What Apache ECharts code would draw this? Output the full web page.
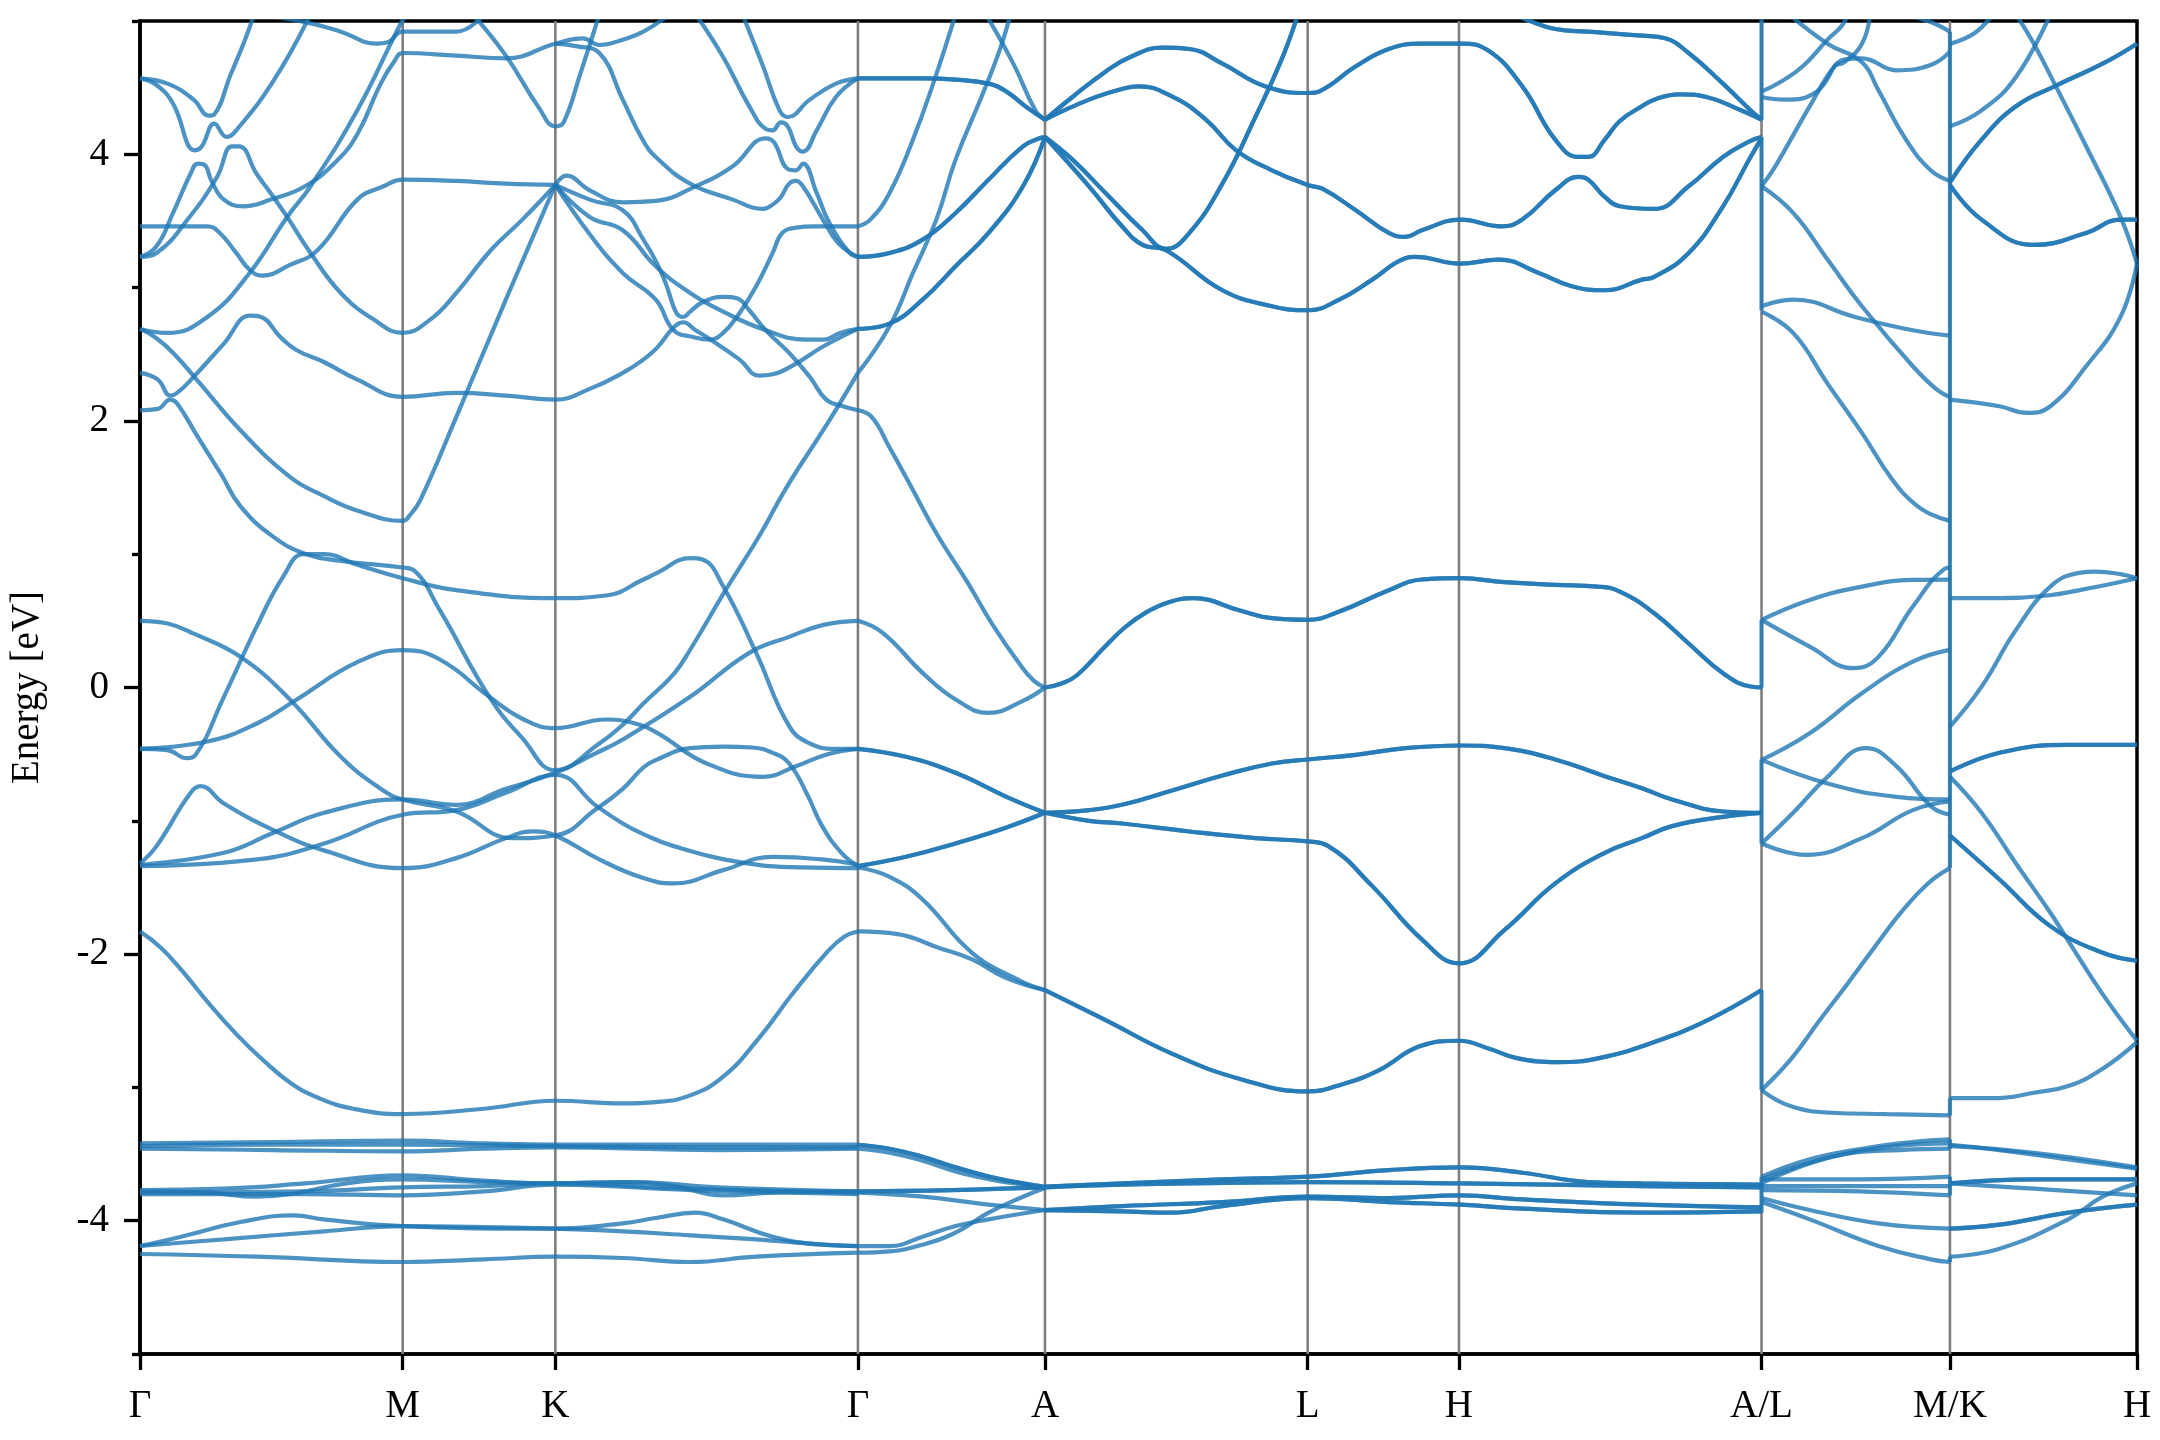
<!DOCTYPE html>
<html>
<head>
<meta charset="utf-8">
<script src="https://cdn.jsdelivr.net/npm/echarts@6/dist/echarts.min.js"></script>
<style>html,body{margin:0;padding:0;background:#fff;}#chart{width:2160px;height:1440px;}</style>
</head>
<body>
<div id="chart"></div>
<script>
// k-path positions of the high-symmetry points and their labels
const kTicks = [0, 191, 302, 522, 658, 849, 959, 1179, 1316, 1452];
const kLabels = ['Γ', 'M', 'K', 'Γ', 'A', 'L', 'H', 'A/L', 'M/K', 'H'];
const energyLabels = [-4, -2, 0, 2, 4];
const energyMinor = [-5, -3, -1, 1, 3, 5];

// Γ–M–K–Γ bands [k, E]
const bandsGMKG = [
  [[0,4.57],[20,4.53],[39,4.41],[50,4.29],[54,4.3],[66,4.6],[76,4.85],[83,5.05]],
  [[0,4.57],[12,4.52],[24,4.38],[40,4.03],[45,4.06],[54,4.23],[63,4.13],[70,4.18],[97,4.55],[124,5.05]],
  [[0,3.23],[12,3.31],[24,3.56],[37,3.86],[42,3.93],[47,3.92],[52,3.8],[61,3.66],[75,3.61],[95,3.66],[120,3.76],[143,3.95],[158,4.15],[175,4.53],[185,4.7],[191,4.76],[230,4.74],[266,4.72],[302,4.83],[322,4.87],[334,4.82],[351,4.86],[366,4.92],[385,5.05]],
  [[0,3.23],[12,3.26],[36,3.53],[56,3.83],[67,4.06],[72,4.06],[85,3.85],[97,3.68],[107,3.53],[124,3.26],[146,2.96],[170,2.76],[191,2.66],[211,2.76],[230,2.96],[255,3.28],[278,3.51],[302,3.77]],
  [[0,3.46],[24,3.46],[49,3.46],[58,3.41],[70,3.26],[80,3.13],[89,3.09],[109,3.17],[129,3.28],[158,3.66],[177,3.76],[191,3.81],[230,3.8],[266,3.78],[302,3.77]],
  [[0,2.69],[20,2.66],[49,2.78],[79,3.1],[107,3.53],[124,3.76],[158,4.33],[189,4.97],[194,5.05]],
  [[0,2.69],[12,2.62],[25,2.5],[42,2.3],[73,1.93],[109,1.58],[133,1.44],[160,1.32],[191,1.25],[196,1.29],[204,1.41],[230,2.03],[266,2.91],[302,3.77]],
  [[0,2.08],[13,2.09],[22,2.16],[27,2.13],[42,1.88],[59,1.6],[73,1.36],[97,1.13],[121,1.0],[146,0.95],[191,0.9],[199,0.88],[218,0.58],[254,-0.07],[278,-0.38],[302,-0.62],[334,-0.42],[351,-0.28],[366,-0.12],[388,0.1],[401,0.3],[424,0.7],[451,1.15],[470,1.5],[501,2.0],[522,2.36]],
  [[0,2.36],[13,2.31],[22,2.19],[27,2.21],[39,2.33],[61,2.58],[80,2.79],[88,2.78],[102,2.63],[114,2.53],[134,2.44],[158,2.31],[191,2.18],[230,2.21],[266,2.19],[302,2.16],[327,2.24],[351,2.36],[366,2.46],[376,2.55],[388,2.7],[395,2.74],[404,2.68],[412,2.63],[436,2.46],[450,2.34],[460,2.35],[477,2.43],[497,2.56],[522,2.69]],
  [[85,5.05],[121,4.99],[146,4.92],[172,4.83],[180,4.84],[191,4.92],[230,4.92],[250,5.05]],
  [[242,5.05],[266,4.74],[290,4.35],[302,4.21],[308,4.24],[320,4.6],[334,5.05]],
  [[302,3.77],[310,3.84],[327,3.73],[351,3.64],[375,3.65],[404,3.76],[431,3.91],[455,4.12],[461,4.09],[471,3.89],[477,3.88],[482,3.93],[492,3.71],[501,3.49],[516,3.26],[522,3.23]],
  [[302,4.83],[318,4.81],[334,4.76],[351,4.41],[366,4.1],[376,3.97],[400,3.78],[431,3.66],[453,3.59],[461,3.63],[466,3.68],[472,3.78],[477,3.8],[482,3.76],[496,3.52],[508,3.33],[522,3.23]],
  [[302,3.77],[327,3.53],[351,3.43],[375,3.16],[400,2.96],[424,2.82],[455,2.68],[484,2.61],[497,2.61],[509,2.66],[522,2.69]],
  [[302,3.77],[327,3.4],[351,3.11],[375,2.91],[388,2.68],[402,2.63],[414,2.61],[424,2.66],[436,2.81],[448,3.01],[460,3.26],[467,3.41],[477,3.45],[490,3.46],[522,3.46]],
  [[302,3.77],[327,3.66],[351,3.58],[366,3.36],[376,3.18],[383,3.01],[390,2.81],[395,2.78],[400,2.82],[409,2.89],[424,2.93],[434,2.92],[443,2.83],[455,2.68],[472,2.51],[487,2.33],[499,2.16],[511,2.11],[522,2.08]],
  [[404,5.05],[424,4.73],[443,4.36],[455,4.19],[460,4.18],[466,4.24],[471,4.21],[477,4.06],[482,4.02],[492,4.18],[506,4.43],[522,4.57]],
  [[438,5.05],[453,4.66],[465,4.33],[471,4.28],[487,4.41],[506,4.53],[522,4.57]],
  [[0,0.5],[20,0.48],[40,0.4],[73,0.23],[109,-0.09],[146,-0.52],[175,-0.76],[191,-0.84],[230,-0.93],[271,-1.13],[302,-1.11],[332,-0.91],[351,-0.76],[366,-0.6],[376,-0.54],[400,-0.455],[424,-0.443],[445,-0.45],[460,-0.49],[472,-0.57],[485,-0.8],[496,-1.04],[510,-1.24],[522,-1.34]],
  [[0,-0.46],[20,-0.47],[34,-0.53],[40,-0.51],[61,-0.07],[85,0.46],[104,0.83],[119,1.0],[134,1.0],[158,0.92],[191,0.82],[230,0.73],[302,0.67],[339,0.69],[366,0.81],[376,0.86],[400,0.97],[409,0.96],[424,0.76],[448,0.26],[472,-0.29],[487,-0.42],[505,-0.46],[522,-0.46]],
  [[0,-0.46],[49,-0.405],[85,-0.27],[114,-0.09],[158,0.19],[191,0.28],[218,0.21],[254,-0.07],[279,-0.24],[302,-0.305],[339,-0.24],[360,-0.27],[376,-0.34],[412,-0.57],[453,-0.67],[477,-0.59],[500,-0.5],[522,-0.46]],
  [[0,-1.32],[12,-1.19],[36,-0.8],[44,-0.74],[61,-0.87],[97,-1.07],[133,-1.22],[191,-1.355],[230,-1.28],[266,-1.13],[286,-1.08],[302,-1.11],[334,-1.29],[366,-1.43],[388,-1.47],[424,-1.37],[460,-1.27],[496,-1.29],[522,-1.33]],
  [[0,-1.33],[61,-1.24],[97,-1.09],[134,-0.94],[191,-0.84],[230,-0.88],[266,-0.76],[302,-0.64],[330,-0.5],[351,-0.39],[400,-0.07],[443,0.26],[472,0.38],[497,0.47],[522,0.5]],
  [[0,-1.34],[85,-1.29],[134,-1.17],[191,-0.955],[230,-0.92],[266,-0.79],[302,-0.655],[332,-0.89],[351,-1.02],[366,-1.1],[388,-1.19],[436,-1.31],[480,-1.35],[522,-1.355]],
  [[0,-1.83],[15,-1.95],[31,-2.13],[50,-2.37],[70,-2.6],[90,-2.8],[110,-2.97],[130,-3.08],[155,-3.16],[191,-3.2],[250,-3.16],[302,-3.1],[351,-3.12],[375,-3.11],[400,-3.06],[424,-2.92],[450,-2.63],[475,-2.29],[500,-1.98],[512,-1.87],[522,-1.83]],
  [[0,-3.42],[96,-3.41],[191,-3.4],[250,-3.42],[302,-3.43],[420,-3.43],[522,-3.43]],
  [[0,-3.44],[96,-3.43],[191,-3.43],[302,-3.44],[420,-3.45],[522,-3.45]],
  [[0,-3.46],[96,-3.47],[191,-3.48],[250,-3.46],[302,-3.45],[420,-3.47],[522,-3.46]],
  [[0,-3.77],[60,-3.76],[120,-3.72],[191,-3.66],[250,-3.7],[302,-3.72],[360,-3.71],[420,-3.75],[522,-3.78]],
  [[0,-3.78],[50,-3.79],[85,-3.82],[110,-3.8],[150,-3.72],[191,-3.69],[250,-3.71],[302,-3.72],[351,-3.71],[388,-3.74],[424,-3.81],[460,-3.79],[522,-3.78]],
  [[0,-3.79],[120,-3.78],[191,-3.75],[250,-3.74],[302,-3.72],[400,-3.76],[522,-3.79]],
  [[0,-3.8],[120,-3.8],[191,-3.81],[250,-3.78],[302,-3.73],[400,-3.77],[522,-3.8]],
  [[0,-4.19],[30,-4.12],[73,-4.01],[112,-3.96],[133,-3.99],[191,-4.04],[302,-4.06],[351,-4.02],[375,-3.98],[404,-3.94],[424,-3.99],[460,-4.12],[496,-4.18],[522,-4.19]],
  [[0,-4.19],[61,-4.14],[134,-4.08],[191,-4.04],[302,-4.06],[351,-4.08],[400,-4.11],[448,-4.14],[497,-4.18],[522,-4.19]],
  [[0,-4.25],[85,-4.27],[191,-4.31],[250,-4.29],[302,-4.27],[351,-4.28],[400,-4.31],[448,-4.27],[522,-4.24]]
];

// Γ–A bands (single)
const bandsGA = [
  [[522,3.46],[531,3.51],[545,3.71],[562,4.11],[578,4.57],[593,5.05]],
  [[522,2.36],[545,2.71],[562,3.11],[579,3.51],[593,3.96],[613,4.46],[625,4.78],[633,5.05]],
  [[615,5.05],[635,4.68],[651,4.33],[658,4.26]],
  [[522,2.08],[532,2.03],[545,1.8],[560,1.52],[580,1.14],[601,0.8],[620,0.47],[640,0.17],[650,0.05],[658,0.0]],
  [[522,0.5],[540,0.41],[569,0.11],[593,-0.09],[617,-0.19],[642,-0.1],[658,0.0]],
  [[522,-1.35],[545,-1.42],[569,-1.59],[605,-1.99],[640,-2.2],[658,-2.27]],
  [[522,-1.83],[551,-1.85],[580,-1.95],[605,-2.04],[630,-2.18],[658,-2.27]],
  [[522,-3.46],[545,-3.49],[569,-3.55],[593,-3.63],[618,-3.69],[642,-3.73],[658,-3.75]],
  [[522,-3.79],[569,-3.82],[617,-3.88],[658,-3.92]],
  [[522,-4.19],[545,-4.19],[569,-4.12],[593,-4.04],[617,-3.99],[658,-3.92]],
  [[522,-4.24],[545,-4.23],[569,-4.18],[593,-4.09],[617,-3.94],[642,-3.82],[658,-3.755]]
];
// Γ–A bands (doubly degenerate)
const bandsGA2 = [
  [[522,4.57],[545,4.57],[569,4.57],[593,4.56],[617,4.53],[630,4.47],[645,4.35],[658,4.26]],
  [[522,3.23],[545,3.26],[569,3.36],[593,3.56],[617,3.81],[642,4.06],[654,4.12],[658,4.13]],
  [[522,2.69],[545,2.73],[569,2.91],[593,3.16],[617,3.41],[642,3.76],[658,4.13]],
  [[522,-0.46],[557,-0.52],[593,-0.64],[630,-0.82],[658,-0.94]],
  [[522,-1.34],[557,-1.27],[593,-1.17],[630,-1.05],[658,-0.94]],
  [[522,-3.43],[545,-3.46],[569,-3.52],[593,-3.6],[618,-3.67],[642,-3.72],[658,-3.745]],
  [[522,-3.78],[590,-3.77],[658,-3.75]]
];

// A–L–H–A bands (doubly degenerate)
const bandsALHA2 = [
  [[658,4.26],[678,4.43],[702,4.62],[720,4.73],[743,4.8],[763,4.79],[787,4.68],[818,4.51],[849,4.46],[859,4.48],[884,4.66],[908,4.79],[932,4.83],[960,4.83],[980,4.78],[1005,4.51],[1029,4.11],[1046,3.98],[1053,3.98],[1065,4.11],[1076,4.25],[1092,4.36],[1101,4.41],[1119,4.45],[1139,4.43],[1164,4.33],[1179,4.26]],
  [[658,4.26],[690,4.41],[714,4.49],[726,4.51],[751,4.43],[775,4.26],[797,4.03],[823,3.88],[849,3.77],[860,3.74],[884,3.58],[908,3.41],[920,3.38],[932,3.43],[960,3.51],[990,3.46],[1005,3.51],[1029,3.73],[1046,3.83],[1053,3.81],[1065,3.68],[1076,3.61],[1101,3.59],[1126,3.76],[1151,3.98],[1171,4.1],[1179,4.13]],
  [[658,4.13],[678,3.96],[702,3.71],[729,3.43],[746,3.29],[763,3.41],[787,3.78],[811,4.28],[830,4.71],[842,5.05]],
  [[658,4.13],[690,3.76],[714,3.46],[729,3.32],[746,3.28],[787,2.98],[823,2.86],[849,2.83],[872,2.91],[896,3.06],[920,3.22],[927,3.23],[960,3.18],[988,3.21],[1017,3.11],[1041,3.01],[1065,2.98],[1092,3.06],[1101,3.08],[1126,3.26],[1151,3.61],[1171,3.98],[1179,4.12]],
  [[1000,5.05],[1029,4.94],[1053,4.92],[1092,4.89],[1109,4.87],[1126,4.76],[1151,4.53],[1171,4.33],[1179,4.26]],
  [[658,0.0],[670,0.03],[681,0.09],[701,0.3],[716,0.45],[731,0.56],[748,0.64],[766,0.67],[799,0.58],[823,0.52],[849,0.507],[872,0.57],[908,0.73],[932,0.81],[960,0.82],[992,0.79],[1029,0.77],[1060,0.757],[1076,0.72],[1101,0.557],[1126,0.33],[1151,0.107],[1171,0.007],[1179,0.0]],
  [[658,-0.94],[690,-0.92],[714,-0.88],[751,-0.77],[787,-0.66],[823,-0.57],[849,-0.54],[884,-0.505],[920,-0.455],[960,-0.435],[992,-0.455],[1029,-0.54],[1065,-0.665],[1092,-0.755],[1114,-0.84],[1151,-0.93],[1179,-0.94]],
  [[658,-0.94],[690,-1.0],[714,-1.02],[763,-1.08],[811,-1.13],[849,-1.155],[864,-1.19],[896,-1.49],[932,-1.89],[959,-2.07],[992,-1.82],[1029,-1.47],[1065,-1.24],[1092,-1.13],[1114,-1.04],[1151,-0.97],[1179,-0.94]],
  [[658,-2.27],[701,-2.49],[751,-2.75],[801,-2.94],[849,-3.03],[876,-2.97],[901,-2.87],[931,-2.69],[959,-2.65],[981,-2.71],[1001,-2.78],[1031,-2.81],[1061,-2.78],[1101,-2.66],[1141,-2.49],[1179,-2.27]],
  [[658,-3.745],[714,-3.72],[787,-3.69],[850,-3.67],[908,-3.62],[960,-3.6],[1005,-3.64],[1053,-3.71],[1092,-3.72],[1179,-3.73]],
  [[658,-3.75],[714,-3.73],[850,-3.71],[960,-3.72],[1092,-3.74],[1179,-3.75]],
  [[658,-3.92],[714,-3.89],[787,-3.86],[850,-3.82],[908,-3.83],[960,-3.81],[1005,-3.84],[1092,-3.88],[1179,-3.9]],
  [[658,-3.92],[714,-3.93],[750,-3.94],[787,-3.89],[850,-3.83],[908,-3.86],[960,-3.88],[1005,-3.91],[1092,-3.94],[1179,-3.93]]
];

// L–M bands
const bandsLM = [
  [[1179,4.47],[1194,4.55],[1209,4.66],[1227,4.86],[1237,4.96],[1242,5.05]],
  [[1179,4.43],[1196,4.41],[1219,4.47],[1239,4.71],[1252,4.72],[1277,4.63],[1302,4.67],[1316,4.77]],
  [[1179,3.76],[1189,3.91],[1214,4.36],[1232,4.66],[1239,4.69],[1252,4.83],[1258,5.05]],
  [[1179,3.76],[1202,3.56],[1227,3.21],[1252,2.86],[1289,2.41],[1307,2.23],[1316,2.18]],
  [[1179,2.86],[1202,2.91],[1247,2.78],[1289,2.68],[1316,2.64]],
  [[1179,2.82],[1202,2.66],[1227,2.28],[1252,1.91],[1274,1.56],[1290,1.38],[1302,1.3],[1316,1.25]],
  [[1199,5.05],[1227,4.83],[1252,4.69],[1264,4.48],[1284,4.11],[1302,3.88],[1316,3.8]],
  [[1280,5.05],[1300,5.0],[1316,4.92]],
  [[1179,0.507],[1214,0.657],[1252,0.757],[1289,0.807],[1316,0.81]],
  [[1179,0.507],[1214,0.307],[1246,0.145],[1264,0.23],[1289,0.607],[1312,0.89],[1316,0.9]],
  [[1179,-0.543],[1214,-0.343],[1252,-0.043],[1289,0.194],[1316,0.282]],
  [[1179,-0.543],[1227,-0.72],[1277,-0.82],[1316,-0.84]],
  [[1179,-1.17],[1202,-0.94],[1227,-0.67],[1255,-0.455],[1277,-0.59],[1302,-0.89],[1316,-0.955]],
  [[1179,-1.17],[1212,-1.255],[1252,-1.13],[1289,-0.92],[1316,-0.855]],
  [[1179,-3.02],[1201,-2.78],[1221,-2.5],[1241,-2.23],[1261,-1.95],[1281,-1.68],[1300,-1.47],[1316,-1.355]],
  [[1179,-3.02],[1200,-3.14],[1230,-3.19],[1270,-3.2],[1316,-3.21]],
  [[1179,-3.67],[1214,-3.54],[1252,-3.46],[1289,-3.41],[1316,-3.39]],
  [[1179,-3.69],[1227,-3.53],[1277,-3.44],[1316,-3.42]],
  [[1179,-3.72],[1240,-3.5],[1280,-3.47],[1316,-3.46]],
  [[1179,-3.69],[1250,-3.69],[1316,-3.67]],
  [[1179,-3.74],[1316,-3.74]],
  [[1179,-3.77],[1250,-3.78],[1316,-3.81]],
  [[1179,-3.83],[1214,-3.92],[1264,-4.02],[1316,-4.06]],
  [[1179,-3.86],[1214,-3.99],[1264,-4.19],[1302,-4.29],[1316,-4.31]]
];

// K–H bands (single)
const bandsKH = [
  [[1316,4.83],[1334,4.91],[1347,5.05]],
  [[1316,4.21],[1339,4.33],[1364,4.58],[1389,5.05]],
  [[1364,5.05],[1377,4.83],[1392,4.53],[1415,4.06],[1440,3.53],[1452,3.18]],
  [[1316,2.16],[1352,2.11],[1372,2.06],[1389,2.11],[1415,2.41],[1440,2.78],[1452,3.18]],
  [[1316,0.67],[1352,0.67],[1387,0.69],[1420,0.75],[1452,0.82]],
  [[1316,-0.293],[1339,0.007],[1364,0.432],[1389,0.757],[1410,0.86],[1422,0.87],[1440,0.85],[1452,0.82]],
  [[1316,-0.67],[1339,-0.94],[1364,-1.32],[1389,-1.69],[1402,-1.9],[1427,-2.3],[1452,-2.65]],
  [[1316,-3.08],[1352,-3.08],[1377,-3.04],[1402,-2.99],[1427,-2.86],[1452,-2.66]],
  [[1316,-3.43],[1352,-3.47],[1402,-3.54],[1452,-3.61]],
  [[1316,-3.44],[1377,-3.49],[1452,-3.6]],
  [[1316,-3.72],[1377,-3.76],[1452,-3.81]],
  [[1316,-4.27],[1352,-4.21],[1402,-3.99],[1427,-3.82],[1452,-3.72]]
];
// K–H bands (doubly degenerate)
const bandsKH2 = [
  [[1316,3.79],[1339,4.11],[1364,4.36],[1392,4.51],[1427,4.68],[1452,4.83]],
  [[1316,3.77],[1339,3.51],[1377,3.32],[1415,3.41],[1440,3.51],[1452,3.51]],
  [[1316,-0.63],[1352,-0.49],[1402,-0.43],[1452,-0.43]],
  [[1316,-1.11],[1352,-1.44],[1389,-1.79],[1427,-1.99],[1452,-2.05]],
  [[1316,-3.72],[1377,-3.69],[1452,-3.69]],
  [[1316,-4.06],[1352,-4.03],[1402,-3.94],[1452,-3.88]]
];

// band jumps at the path breaks [k, E from, E to]
const jumps = [
  [1179, 5.05, 4.26], [1179, 4.13, 2.83], [1179, 0.0, 0.507], [1179, -1.17, -0.54],
  [1179, -2.27, -3.02], [1179, -3.67, -3.94],
  [1316, -1.355, 4.92], [1316, -3.21, -3.08], [1316, -3.39, -3.46], [1316, -3.67, -3.81], [1316, -4.31, -4.27]
];

const FONT = 'Liberation Serif';
const BLUE = '#1f77b4';
const chart = echarts.init(document.getElementById('chart'), null, {renderer: 'canvas'});
const series = [];

// vertical guide lines at the high-symmetry points
kTicks.slice(1, -1).forEach(k => {
  series.push({type: 'line', data: [[k, -5], [k, 5]], symbol: 'none', silent: true, z: 1,
    lineStyle: {color: '#7f7f7f', width: 2.6, opacity: 1}});
});

function addBands(list, times) {
  list.forEach(b => {
    for (let i = 0; i < times; i++) {
      series.push({type: 'line', data: b, symbol: 'none', showSymbol: false, smooth: 0.45,
        silent: true, z: 3, clip: true,
        lineStyle: {color: BLUE, width: 4.2, opacity: 0.8}});
    }
  });
}
addBands(bandsGMKG, 1);
addBands(bandsGA, 1);
addBands(bandsGA2, 2);
addBands(bandsALHA2, 2);
addBands(bandsLM, 1);
addBands(bandsKH, 1);
addBands(bandsKH2, 2);
jumps.forEach(j => {
  series.push({type: 'line', data: [[j[0], j[1]], [j[0], j[2]]], symbol: 'none', silent: true, z: 3,
    clip: true, lineStyle: {color: BLUE, width: 4.2, opacity: 0.8}});
});

const tickStyle = {color: '#000', width: 3.3};
chart.setOption({
  animation: false,
  backgroundColor: '#fff',
  textStyle: {fontFamily: FONT},
  grid: {left: 136, top: 21, right: 23, bottom: 86, show: true, borderColor: '#000', borderWidth: 3.5,
    backgroundColor: 'transparent'},
  xAxis: {
    type: 'value', min: 0, max: 1452,
    axisLine: {show: true, onZero: false, lineStyle: {color: '#000', width: 3.5}},
    axisTick: {show: true, customValues: kTicks, length: 16, lineStyle: tickStyle},
    axisLabel: {customValues: kTicks, formatter: v => kLabels[kTicks.indexOf(v)],
      fontFamily: FONT, fontSize: 39, color: '#000', margin: 33},
    splitLine: {show: false}
  },
  yAxis: [{
    type: 'value', min: -5, max: 5,
    name: 'Energy [eV]', nameLocation: 'middle', nameGap: 93,
    nameTextStyle: {fontFamily: FONT, fontSize: 39, color: '#000'},
    axisLine: {show: true, onZero: false, lineStyle: {color: '#000', width: 3.5}},
    axisTick: {show: true, customValues: energyLabels, length: 16, lineStyle: tickStyle},
    axisLabel: {customValues: energyLabels, formatter: v => String(v), fontFamily: FONT, fontSize: 39, color: '#000', margin: 31},
    splitLine: {show: false}
  }, {
    type: 'value', min: -5, max: 5, position: 'left',
    axisLine: {show: false},
    axisTick: {show: true, customValues: energyMinor, length: 8, lineStyle: tickStyle},
    axisLabel: {show: false},
    splitLine: {show: false}
  }],
  series: series
});
</script>
</body>
</html>
